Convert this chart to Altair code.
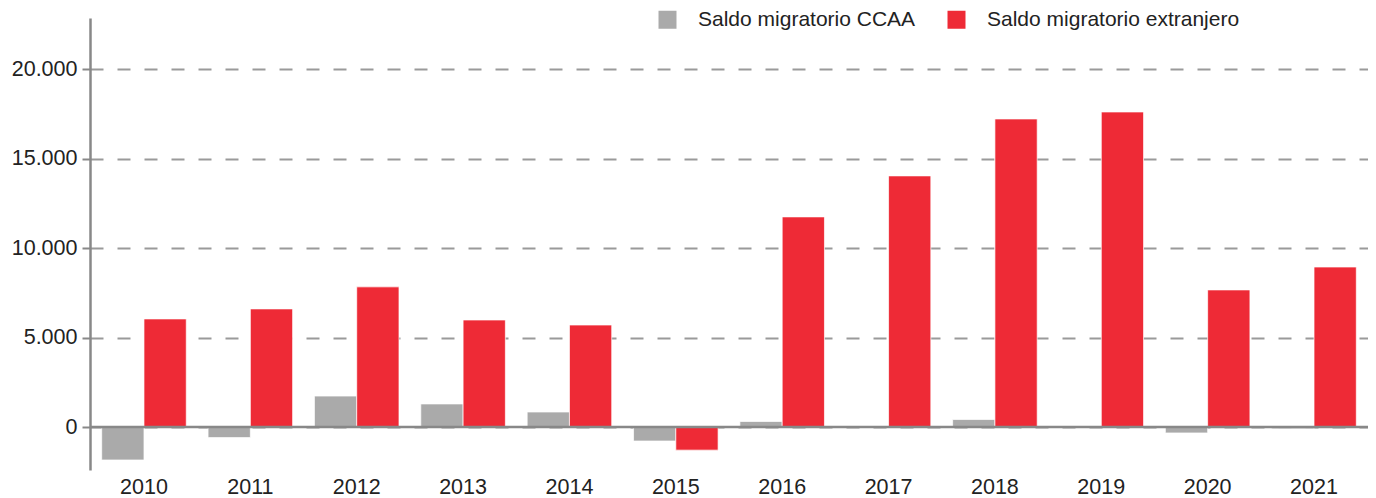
import altair as alt
import pandas as pd

years = ["2010", "2011", "2012", "2013", "2014", "2015", "2016", "2017", "2018", "2019", "2020", "2021"]
saldo_ccaa = [-1840, -590, 1730, 1290, 840, -780, 310, 20, 420, 30, -330, -100]
saldo_extranjero = [6040, 6600, 7830, 5980, 5700, -1290, 11740, 14030, 17210, 17600, 7660, 8940]
series_names = ["Saldo migratorio CCAA", "Saldo migratorio extranjero"]
series_colors = ["#aaaaaa", "#ee2a36"]
y_ticks = [0, 5000, 10000, 15000, 20000]

rows = []
for i, y in enumerate(years):
    rows.append({"year": y, "series": series_names[0], "value": saldo_ccaa[i]})
    rows.append({"year": y, "series": series_names[1], "value": saldo_extranjero[i]})
df = pd.DataFrame(rows)

FONT = "Liberation Sans"

bars = alt.Chart(df).mark_bar(stroke="#ffffff", strokeWidth=1, strokeOpacity=0.7).encode(
    x=alt.X(
        "year:N",
        sort=years,
        title=None,
        scale=alt.Scale(paddingInner=0.205, paddingOuter=0.11),
        axis=alt.Axis(
            orient="bottom",
            domain=False,
            ticks=False,
            grid=False,
            labelAngle=0,
            labelFontSize=21.5,
            labelFont=FONT,
            labelColor="#222222",
            labelPadding=6,
        ),
    ),
    xOffset=alt.XOffset("series:N", sort=series_names),
    y=alt.Y(
        "value:Q",
        title=None,
        scale=alt.Scale(domain=[-2400, 22850], nice=False, zero=False),
        axis=alt.Axis(
            values=y_ticks,
            labelExpr="replace(format(datum.value, ','), ',', '.')",
            labelFontSize=21.5,
            labelFont=FONT,
            labelColor="#222222",
            labelPadding=5,
            tickSize=8,
            tickWidth=2,
            tickColor="#888888",
            domainColor="#888888",
            domainWidth=2.5,
            grid=True,
            gridColor="#9a9a9a",
            gridWidth=2,
            gridDash=[13, 14],
        ),
    ),
    color=alt.Color(
        "series:N",
        sort=series_names,
        scale=alt.Scale(domain=series_names, range=series_colors),
        legend=alt.Legend(
            title=None,
            orient="none",
            direction="horizontal",
            legendX=567,
            legendY=-9,
            symbolType="square",
            symbolSize=324,
            symbolStrokeWidth=0,
            labelFontSize=21,
            labelFont=FONT,
            labelColor="#222222",
            labelOffset=20,
            labelLimit=500,
            columnPadding=30,
            padding=0,
        ),
    ),
)

zero_rule = alt.Chart(pd.DataFrame({"v": [0]})).mark_rule(color="#888888", strokeWidth=2.5).encode(
    y=alt.Y("v:Q")
)

chart = alt.layer(bars, zero_rule).properties(
    width=1278,
    height=452,
    padding={"left": 82, "top": 10, "right": 0, "bottom": 34},
    autosize=alt.AutoSizeParams(type="none"),
).configure(background="#ffffff").configure_view(stroke=None)

chart.save("out.html", embed_options={"renderer": "svg", "actions": False})
